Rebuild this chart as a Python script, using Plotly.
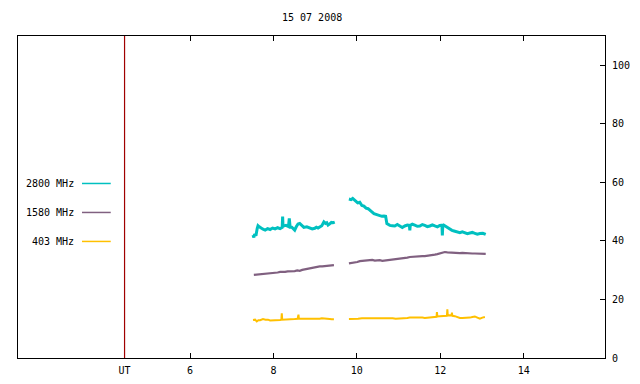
import plotly.graph_objects as go

title_text = "15 07 2008"
ut_hour = 4.43

# 2800 MHz
t_2800 = [7.51, 7.53, 7.55, 7.58, 7.61, 7.63, 7.66, 7.70, 7.75, 7.80, 7.86, 7.92, 7.98, 8.04, 8.10, 8.16, 8.21,
          8.22, 8.23, 8.24, 8.30, 8.36, 8.38, 8.39, 8.40, 8.44, 8.48, 8.51, 8.55, 8.59, 8.63, 8.68, 8.73, 8.80,
          8.87, 8.93, 8.99, 9.03, 9.07, 9.11, 9.16, 9.21, 9.25, 9.28, 9.31, 9.35, 9.39, 9.43, 9.47,
          9.6,
          9.81, 9.86, 9.90, 9.95, 10.02, 10.07, 10.12, 10.17, 10.22, 10.27, 10.31, 10.36, 10.41, 10.45, 10.50,
          10.55, 10.60, 10.65, 10.69, 10.72, 10.75, 10.79, 10.85, 10.91, 10.97, 11.03, 11.09, 11.15, 11.21,
          11.26, 11.27, 11.28, 11.33, 11.39, 11.45, 11.51, 11.57, 11.63, 11.69, 11.75, 11.81, 11.87, 11.93,
          11.99, 12.04, 12.05, 12.06, 12.08, 12.13, 12.18, 12.23, 12.28, 12.33, 12.37, 12.42, 12.47, 12.53,
          12.59, 12.65, 12.71, 12.77, 12.83, 12.89, 12.95, 13.02, 13.09]
v_2800 = [42.0, 41.2, 42.3, 41.8, 44.2, 45.2, 44.8, 44.3, 44.0, 43.7, 44.2, 43.9, 44.4, 44.1, 44.5, 44.2, 44.6,
          48.3, 44.8, 45.1, 45.3, 44.9, 47.7, 45.6, 44.7, 44.7, 44.2, 43.7, 44.9, 45.8, 46.0, 45.4, 44.6, 44.8,
          44.5, 44.1, 44.3, 44.7, 44.4, 44.8, 45.2, 46.5, 46.0, 46.2, 45.4, 45.8, 46.3, 46.2, 46.4,
          None,
          54.3, 54.1, 54.5, 54.0, 53.0, 53.2, 52.1, 51.9, 51.2, 51.0, 50.4, 49.9, 49.3, 49.1, 48.7,
          48.6, 48.4, 48.5, 48.4, 45.9, 45.5, 45.3, 45.2, 45.1, 45.6, 45.0, 44.6, 45.1, 45.4,
          45.3, 43.6, 45.3, 45.7, 45.4, 45.0, 45.1, 45.6, 45.3, 44.9, 45.1, 45.5, 45.1, 44.8,
          45.3, 45.4, 41.9, 45.2, 45.4, 44.9, 44.4, 43.9, 43.6, 43.4, 43.3, 43.0, 42.8, 43.1,
          42.8, 42.5, 42.7, 42.9, 42.6, 42.3, 42.5, 42.6, 42.2]

# 1580 MHz
t_1580 = [7.53, 7.60, 7.68, 7.74, 7.80, 7.86, 7.92, 7.98, 8.04, 8.10, 8.16, 8.22, 8.28, 8.34, 8.40, 8.46, 8.51,
          8.57, 8.63, 8.69, 8.75, 8.81, 8.87, 8.93, 8.99, 9.05, 9.11, 9.17, 9.23, 9.29, 9.35, 9.40, 9.45,
          9.6,
          9.81, 9.88, 9.95, 10.01, 10.07, 10.13, 10.19, 10.25, 10.31, 10.37, 10.43, 10.49, 10.55, 10.61, 10.67,
          10.73, 10.79, 10.85, 10.91, 10.97, 11.03, 11.09, 11.15, 11.21, 11.27, 11.33, 11.39, 11.45, 11.51,
          11.57, 11.63, 11.69, 11.75, 11.81, 11.87, 11.93, 11.99, 12.05, 12.11, 12.17, 12.23, 12.29, 12.35,
          12.41, 12.47, 12.53, 12.59, 12.65, 12.71, 12.77, 12.83, 12.89, 12.95, 13.02, 13.09]
v_1580 = [28.4, 28.5, 28.6, 28.5, 28.6, 28.7, 28.8, 28.9, 29.0, 29.2, 29.4, 29.3, 29.4, 29.6, 29.6, 29.7, 29.7,
          29.9, 29.8, 30.1, 30.3, 30.4, 30.5, 30.8, 31.1, 31.2, 31.3, 31.3, 31.4, 31.6, 31.7, 31.6, 31.7,
          None,
          32.3, 32.4, 32.5, 32.8, 33.1, 33.2, 33.4, 33.5, 33.4, 33.5, 33.3, 33.4, 33.4, 33.2, 33.3,
          33.5, 33.6, 33.7, 33.8, 33.7, 33.8, 33.9, 34.1, 34.3, 34.5, 34.6, 34.7, 34.6, 34.7,
          34.8, 34.8, 34.9, 34.9, 35.1, 35.3, 35.5, 35.8, 36.0, 36.2, 36.1, 36.0, 35.9, 35.8,
          35.8, 35.8, 35.9, 35.8, 35.8, 35.8, 35.7, 35.7, 35.7, 35.7, 35.6, 35.6]

# 403 MHz
t_403 = [7.51, 7.56, 7.60, 7.64, 7.68, 7.72, 7.75, 7.81, 7.87, 7.92, 7.96, 8.01, 8.06, 8.11, 8.16, 8.19,
         8.20, 8.21, 8.28, 8.34, 8.40, 8.46, 8.51, 8.58, 8.60, 8.61, 8.63, 8.69, 8.75, 8.81, 8.87, 8.93, 8.99,
         9.05, 9.11, 9.16, 9.23, 9.29, 9.35, 9.40, 9.45,
         9.6,
         9.81, 9.88, 9.95, 10.03, 10.12, 10.19, 10.26, 10.34, 10.43, 10.49, 10.55, 10.61, 10.67, 10.73, 10.79,
         10.86, 10.93, 10.98, 11.03, 11.09, 11.15, 11.21, 11.27, 11.33, 11.39, 11.45, 11.51, 11.57, 11.63,
         11.69, 11.75, 11.81, 11.87, 11.91, 11.92, 11.93, 11.99, 12.05, 12.11, 12.16, 12.17, 12.18, 12.23,
         12.27, 12.28, 12.29, 12.35, 12.41, 12.47, 12.53, 12.59, 12.65, 12.71, 12.77, 12.83, 12.89, 12.95,
         13.01, 13.07]
v_403 = [13.0, 13.1, 12.5, 12.9, 12.9, 13.3, 13.3, 13.1, 13.1, 12.8, 12.8, 12.8, 12.8, 12.9, 13.0, 13.1,
         15.3, 13.1, 13.1, 13.2, 13.2, 13.2, 13.3, 13.4, 14.8, 13.4, 13.4, 13.3, 13.2, 13.2, 13.2, 13.2, 13.2,
         13.3, 13.4, 13.6, 13.4, 13.4, 13.3, 13.2, 13.2,
         None,
         13.3, 13.3, 13.3, 13.4, 13.6, 13.6, 13.7, 13.7, 13.7, 13.6, 13.6, 13.7, 13.7, 13.6, 13.7,
         13.6, 13.4, 13.5, 13.6, 13.6, 13.7, 13.7, 13.8, 13.8, 14.0, 13.9, 13.9, 13.8, 13.7,
         13.8, 14.0, 14.0, 14.0, 14.1, 15.7, 14.2, 14.3, 14.3, 14.3, 14.4, 16.6, 14.5, 14.6,
         14.5, 15.5, 14.4, 14.3, 13.9, 13.7, 13.7, 13.7, 13.8, 13.8, 14.0, 14.2, 13.8, 13.4,
         13.8, 14.0]

legend_labels = ["2800 MHz", "1580 MHz", "403 MHz"]
colors = ["#00C0C0", "#806080", "#FFC000"]

x_ticks = [ut_hour, 6, 8, 10, 12, 14]
x_tick_text = ["UT", "6", "8", "10", "12", "14"]
y_ticks = [0, 20, 40, 60, 80, 100]

font_family = "DejaVu Sans Mono"

fig = go.Figure()
series = [(t_2800, v_2800, 3.0), (t_1580, v_1580, 2.2), (t_403, v_403, 2.0)]
for (t, v, w), c, name in zip(series, colors, legend_labels):
    fig.add_trace(go.Scatter(x=t, y=v, mode="lines", line=dict(color=c, width=w),
                             connectgaps=False, name=name, showlegend=False))

# UT marker line
fig.add_shape(type="line", xref="x", yref="paper", x0=ut_hour, x1=ut_hour, y0=0, y1=1,
              line=dict(color="#A00000", width=1.2))

# manual legend (text left of sample line, gnuplot style)
legend_y = [0.542, 0.452, 0.362]
for lab, c, ly in zip(legend_labels, colors, legend_y):
    fig.add_annotation(text=lab, xref="paper", yref="paper", x=0.098, y=ly,
                       xanchor="right", yanchor="middle", showarrow=False,
                       font=dict(family=font_family, size=10, color="#000000"))
    fig.add_shape(type="line", xref="paper", yref="paper", x0=0.109, x1=0.158, y0=ly, y1=ly,
                  line=dict(color=c, width=1.5))

fig.add_annotation(text=title_text, xref="paper", yref="paper", x=0.5, y=1.0, yshift=19,
                   xanchor="center", yanchor="middle", showarrow=False,
                   font=dict(family=font_family, size=10, color="#000000"))

fig.update_layout(
    width=640, height=384,
    margin=dict(l=18, r=35, t=36, b=26, autoexpand=False),
    paper_bgcolor="white", plot_bgcolor="white",
    font=dict(family=font_family, size=10, color="#000000"),
    showlegend=False,
    xaxis=dict(range=[1.875, 15.95], tickvals=x_ticks, ticktext=x_tick_text,
               ticks="inside", ticklen=5, tickcolor="black", showgrid=False, zeroline=False,
               showline=True, linecolor="black", linewidth=1, mirror="ticks",
               ticklabelstandoff=3, automargin=False,
               tickfont=dict(family=font_family, size=10)),
    yaxis=dict(range=[0, 110], tickvals=y_ticks, side="right",
               ticks="inside", ticklen=5, tickcolor="black", showgrid=False, zeroline=False,
               showline=True, linecolor="black", linewidth=1, mirror=True,
               ticklabelstandoff=4, automargin=False,
               tickfont=dict(family=font_family, size=10)),
)

fig.write_html("out.html", config={"displayModeBar": False, "staticPlot": True})

# remove default page margin so the figure sits at the window origin
with open("out.html", "r", encoding="utf-8") as f:
    html = f.read()
html = html.replace("<head>", "<head><style>html,body{margin:0;padding:0;overflow:hidden;}</style>", 1)
with open("out.html", "w", encoding="utf-8") as f:
    f.write(html)
